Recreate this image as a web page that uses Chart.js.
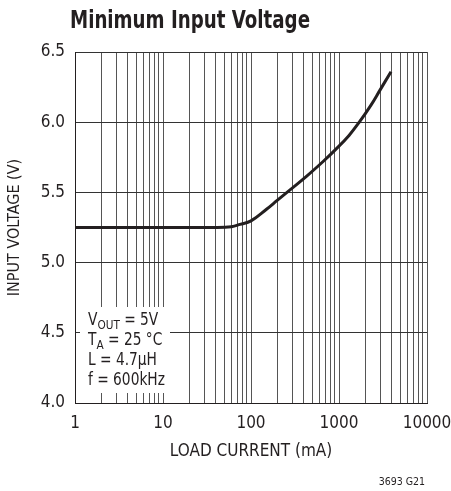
<!DOCTYPE html>
<html>
<head>
<meta charset="utf-8">
<script src="https://cdn.jsdelivr.net/npm/chart.js@4.4.0/dist/chart.umd.min.js"></script>
<style>
  html, body { margin: 0; padding: 0; background: #fff; }
  #wrap { position: relative; width: 451px; height: 491px; }
</style>
</head>
<body>
<div id="wrap"><canvas id="c" width="451" height="491"></canvas></div>
<script>
// Minimum input voltage vs load current (log x axis)
const loadCurrent = [1, 10, 40, 60, 75, 100, 150, 200, 280, 430, 660, 930, 1300, 1700, 2300, 2900, 3900];
const inputVoltage = [5.25, 5.25, 5.25, 5.256, 5.272, 5.297, 5.38, 5.445, 5.52, 5.616, 5.72, 5.81, 5.906, 6.0, 6.12, 6.225, 6.36];
const xDecades = [1, 10, 100, 1000, 10000];
const yTicks = [4.0, 4.5, 5.0, 5.5, 6.0, 6.5];
const noteLines = [
  ['V', 'OUT', ' = 5V'],
  ['T', 'A', ' = 25 \u00B0C'],
  ['L = 4.7\u00B5H', '', ''],
  ['f = 600kHz', '', '']
];

const FONT = '"Liberation Sans Narrow", "DejaVu Sans Condensed", "Arial Narrow", sans-serif';
const INK = '#231f20';

// draw text squeezed to a given width (reference uses a condensed face)
function squeezeText(ctx, txt, x, y, w) {
  const natural = ctx.measureText(txt).width;
  const k = Math.min(1, w / natural);
  ctx.save();
  ctx.translate(x, y);
  ctx.scale(k, 1);
  ctx.fillText(txt, 0, 0);
  ctx.restore();
  return natural * k;
}

// white box with the test conditions, drawn over the grid
const notePlugin = {
  id: 'notes',
  beforeDatasetsDraw(chart) {
    const ctx = chart.ctx;
    ctx.save();
    ctx.fillStyle = '#fff';
    ctx.fillRect(80, 307, 90, 86);
    ctx.fillStyle = INK;
    ctx.textBaseline = 'alphabetic';
    const k = 0.9;
    noteLines.forEach((ln, i) => {
      let x = 88;
      const y = 325 + i * 20;
      ctx.font = '17px ' + FONT;
      x += squeezeText(ctx, ln[0], x, y, ctx.measureText(ln[0]).width * k);
      if (ln[1]) {
        ctx.font = '13px ' + FONT;
        x += squeezeText(ctx, ln[1], x, y + 4, ctx.measureText(ln[1]).width * k);
      }
      ctx.font = '17px ' + FONT;
      if (ln[2]) squeezeText(ctx, ln[2], x, y, ctx.measureText(ln[2]).width * k);
    });
    ctx.restore();
  },
  afterDraw(chart) {
    const ctx = chart.ctx;
    ctx.save();
    ctx.fillStyle = INK;
    ctx.textBaseline = 'alphabetic';
    ctx.font = 'bold 25px ' + FONT;
    squeezeText(ctx, 'Minimum Input Voltage', 70, 28, 240);
    ctx.font = '10.5px ' + FONT;
    ctx.textAlign = 'right';
    ctx.fillText('3693 G21', 425, 485);
    ctx.restore();
  }
};

const minorTicks = [];
for (let d = 1; d < 10000; d *= 10) {
  for (let k = 1; k < 10; k++) minorTicks.push(k * d);
}
minorTicks.push(10000);

new Chart(document.getElementById('c'), {
  type: 'line',
  data: {
    labels: loadCurrent,
    datasets: [{
      data: loadCurrent.map((x, i) => ({ x: x, y: inputVoltage[i] })),
      borderColor: INK,
      borderWidth: 3,
      pointRadius: 0,
      tension: 0.4,
      fill: false
    }]
  },
  options: {
    responsive: false,
    animation: false,
    layout: { padding: { top: 52, right: 24, left: 0, bottom: 0 } },
    plugins: {
      legend: { display: false },
      tooltip: { enabled: false }
    },
    scales: {
      x: {
        type: 'logarithmic',
        min: 1,
        max: 10000,
        afterBuildTicks: s => { s.ticks = minorTicks.map(v => ({ value: v })); },
        afterFit: s => { s.height = 88; s.paddingLeft = 0; s.paddingRight = 0; },
        ticks: {
          autoSkip: false,
          maxRotation: 0,
          padding: 10,
          color: INK,
          font: { family: FONT, size: 17 },
          callback: v => xDecades.includes(v) ? String(v) : ''
        },
        grid: { color: '#555', lineWidth: 1, drawTicks: false },
        border: { color: INK, width: 1 },
        title: {
          display: true,
          text: 'LOAD CURRENT (mA)',
          color: INK,
          font: { family: FONT, size: 17 },
          padding: { top: 0, bottom: 29 }
        }
      },
      y: {
        min: 4,
        max: 6.5,
        afterBuildTicks: s => { s.ticks = yTicks.map(v => ({ value: v })); },
        afterFit: s => { s.width = 75; s.paddingTop = 0; s.paddingBottom = 0; },
        ticks: {
          padding: 10,
          color: INK,
          font: { family: FONT, size: 17 },
          callback: v => v.toFixed(1)
        },
        grid: { color: '#333', lineWidth: 1, drawTicks: false },
        border: { color: INK, width: 1 },
        title: {
          display: true,
          text: 'INPUT VOLTAGE (V)',
          color: INK,
          font: { family: FONT, size: 16 },
          padding: { top: 5, bottom: 0 }
        }
      }
    }
  },
  plugins: [notePlugin]
});
</script>
</body>
</html>
